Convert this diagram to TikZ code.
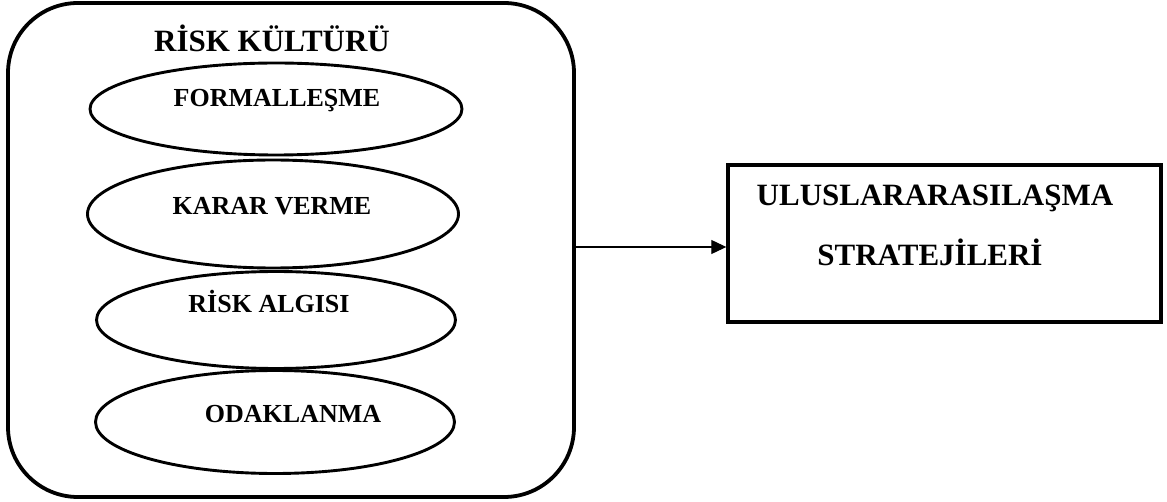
\documentclass[tikz,border=0pt]{standalone}
\usepackage{fontspec}
\setmainfont{Liberation Serif}
\usetikzlibrary{positioning, arrows.meta, shapes.geometric}

\begin{document}
\begin{tikzpicture}[x=1pt, y=-1pt,
      frame/.style={draw, line width=3.4pt, inner sep=0pt},
      oval/.style={draw, ellipse, line width=2.9pt, inner sep=0pt},
      lbl/.style={font=\fontsize{26}{30}\selectfont\bfseries, inner sep=0pt, anchor=base},
      head/.style={font=\fontsize{31}{36}\selectfont\bfseries, inner sep=0pt, anchor=base},
      arr/.style={-{Triangle[length=15pt, width=14pt]}, line width=1.1pt},
   ]
   \useasboundingbox (0,0) rectangle (1167,502);

   % risk culture block
   \node[frame, line width=3.8pt, rounded corners=70pt, minimum width=566pt, minimum height=494pt] (risk) at (291,250) {};
   \node[head] (title) at (272,52) {RİSK KÜLTÜRÜ};

   \node[oval, minimum width=372pt, minimum height=92pt] (form) at (276,109) {};
   \node[oval, minimum width=371pt, minimum height=108pt] (karar) at (273,214) {};
   \node[oval, minimum width=359pt, minimum height=97pt] (algi) at (276,320) {};
   \node[oval, minimum width=359pt, minimum height=103pt] (odak) at (275,422) {};

   \node[lbl] (tform) at (277,107) {FORMALLEŞME};
   \node[lbl] (tkarar) at (272,215) {KARAR VERME};
   \node[lbl] (talgi) at (269,313) {RİSK ALGISI};
   \node[lbl] (todak) at (293,422) {ODAKLANMA};

   % strategies block
   \node[frame, minimum width=433pt, minimum height=157pt] (strat) at (944.5,243.5) {};
   \node[head] (s1) at (935,206) {ULUSLARARASILAŞMA};
   \node[head] (s2) at (930,266) {STRATEJİLERİ};

   \draw[arr] ([yshift=3pt]risk.east) -- ([yshift=3pt]risk.east -| strat.west);
\end{tikzpicture}
\end{document}
